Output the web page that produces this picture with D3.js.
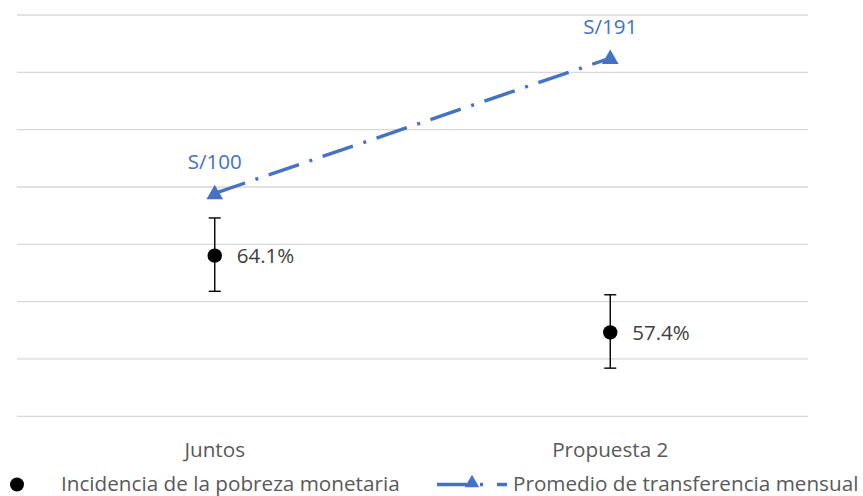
<!DOCTYPE html>
<html>
<head>
<meta charset="utf-8">
<script src="https://cdn.jsdelivr.net/npm/d3@7"></script>
<style>
  body { margin: 0; background: #fff; }
  text { font-family: "Open Sans", sans-serif; }
</style>
</head>
<body>
<svg id="chart" width="863" height="496"></svg>
<script>
// chart data
var categories = ["Juntos", "Propuesta 2"];
var pobreza = [64.1, 57.4];          // incidencia de la pobreza monetaria (%)
var pobrezaError = [3.2, 3.2];       // error bars (+/- pts)
var transferencia = [100, 191];      // promedio de transferencia mensual (S/)
var gridTicks = [50, 55, 60, 65, 70, 75, 80, 85];

var blue = "#4472C4";
var svg = d3.select("#chart");

var x = d3.scaleBand().domain(categories).range([17, 808]);
var yLeft = d3.scaleLinear().domain([50, 85]).range([416.3, 15]);
var yRight = d3.scaleLinear().domain([-50, 220]).range([416.3, 15]);
var cx = function (c) { return x(c) + x.bandwidth() / 2; };

// gridlines
svg.append("g").selectAll("line")
    .data(gridTicks)
    .enter().append("line")
    .attr("x1", 17).attr("x2", 808)
    .attr("y1", function (d) { return yLeft(d); })
    .attr("y2", function (d) { return yLeft(d); })
    .attr("stroke", "#d9d9d9")
    .attr("stroke-width", 1.3);

// category labels
svg.append("g").selectAll("text")
    .data(categories)
    .enter().append("text")
    .attr("x", function (d) { return cx(d); })
    .attr("y", 456.5)
    .attr("text-anchor", "middle")
    .attr("font-size", 20.7)
    .attr("fill", "#595959")
    .text(function (d) { return d; });

// error bars
var err = svg.append("g").attr("stroke", "#000").attr("stroke-width", 1.4);
categories.forEach(function (c, i) {
    var top = yLeft(pobreza[i] + pobrezaError[i]);
    var bot = yLeft(pobreza[i] - pobrezaError[i]);
    err.append("line").attr("x1", cx(c)).attr("x2", cx(c)).attr("y1", top).attr("y2", bot);
    err.append("line").attr("x1", cx(c) - 6).attr("x2", cx(c) + 6).attr("y1", top).attr("y2", top);
    err.append("line").attr("x1", cx(c) - 6).attr("x2", cx(c) + 6).attr("y1", bot).attr("y2", bot);
});

// pobreza points
svg.append("g").selectAll("circle")
    .data(pobreza)
    .enter().append("circle")
    .attr("cx", function (d, i) { return cx(categories[i]); })
    .attr("cy", function (d) { return yLeft(d) + 1; })
    .attr("r", 7.2)
    .attr("fill", "#000");

svg.append("g").selectAll("text")
    .data(pobreza)
    .enter().append("text")
    .attr("x", function (d, i) { return cx(categories[i]) + 22; })
    .attr("y", function (d) { return yLeft(d) + 1; })
    .attr("dy", "0.35em")
    .attr("font-size", 20.5)
    .attr("fill", "#404040")
    .text(function (d) { return d.toFixed(1) + "%"; });

// transferencia line
var line = d3.line()
    .x(function (d, i) { return cx(categories[i]); })
    .y(function (d) { return yRight(d); });

svg.append("path")
    .datum(transferencia)
    .attr("d", line)
    .attr("fill", "none")
    .attr("stroke", blue)
    .attr("stroke-width", 3.4)
    .attr("stroke-dasharray", "32,11,3,11");

var tri = d3.symbol().type(d3.symbolTriangle).size(120);
svg.append("g").selectAll("path")
    .data(transferencia)
    .enter().append("path")
    .attr("d", tri)
    .attr("transform", function (d, i) { return "translate(" + cx(categories[i]) + "," + (yRight(d) + 1) + ")"; })
    .attr("fill", blue);

svg.append("g").selectAll("text")
    .data(transferencia)
    .enter().append("text")
    .attr("x", function (d, i) { return cx(categories[i]); })
    .attr("y", function (d) { return yRight(d) - 24; })
    .attr("text-anchor", "middle")
    .attr("font-size", 20.5)
    .attr("fill", blue)
    .text(function (d) { return "S/" + d; });

// legend
var lg = svg.append("g");
lg.append("circle").attr("cx", 17).attr("cy", 484.5).attr("r", 7).attr("fill", "#000");
lg.append("text").attr("x", 61).attr("y", 491).attr("font-size", 20.7).attr("fill", "#595959")
    .text("Incidencia de la pobreza monetaria");

lg.append("line")
    .attr("x1", 437).attr("x2", 507).attr("y1", 484.5).attr("y2", 484.5)
    .attr("stroke", blue).attr("stroke-width", 3.4)
    .attr("stroke-dasharray", "30,13,3,14");
lg.append("path").attr("d", d3.symbol().type(d3.symbolTriangle).size(90))
    .attr("transform", "translate(472,483)")
    .attr("fill", blue);
lg.append("text").attr("x", 513).attr("y", 491).attr("font-size", 20.7).attr("fill", "#595959")
    .text("Promedio de transferencia mensual");
</script>
</body>
</html>
